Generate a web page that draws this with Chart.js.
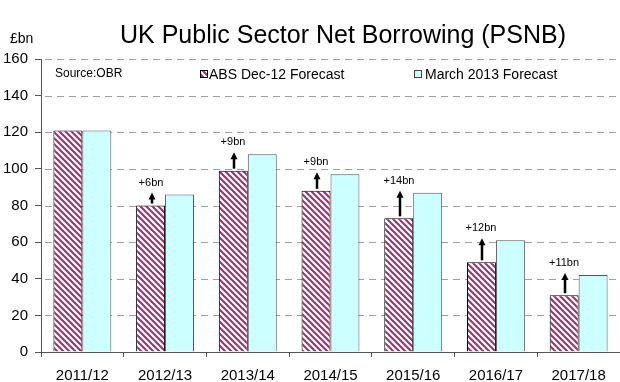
<!DOCTYPE html>
<html lang="en">
<head>
    <meta charset="UTF-8">
    <title>UK Public Sector Net Borrowing (PSNB)</title>
    <script src="https://cdn.jsdelivr.net/npm/chart.js"></script>
    <style>
        body { margin: 0; background: #fff; }
    </style>
</head>
<body>
<canvas id="psnbChart" width="620" height="382"></canvas>

<script>
    const years = ['2011/12', '2012/13', '2013/14', '2014/15', '2015/16', '2016/17', '2017/18'];
    const absDec12 = [121, 80, 99, 88, 73, 49, 31];      // ABS Dec-12 Forecast, £bn
    const march2013 = [121, 86, 108, 97, 87, 61, 42];    // March 2013 Forecast, £bn
    const yMin = 0;
    const yMax = 160;
    const yStep = 20;

    const FONT = "'Liberation Sans', Arial, sans-serif";
    const ctx = document.getElementById('psnbChart').getContext('2d');

    // diagonal maroon/white stripes for the December bars
    function makeHatch() {
        const c = document.createElement('canvas');
        c.width = 6;
        c.height = 6;
        const g = c.getContext('2d');
        g.fillStyle = '#ffffff';
        g.fillRect(0, 0, 6, 6);
        g.strokeStyle = '#993366';
        g.lineWidth = 2;
        g.beginPath();
        g.moveTo(-1, -1); g.lineTo(7, 7);
        g.moveTo(-1, 5); g.lineTo(1, 7);
        g.moveTo(5, -1); g.lineTo(7, 1);
        g.stroke();
        return ctx.createPattern(c, 'repeat');
    }
    const hatch = makeHatch();

    // dashed horizontal gridlines at every y tick (the axis line covers 0)
    const dashedGrid = {
        id: 'dashedGrid',
        beforeDatasetsDraw(chart) {
            const {ctx: c, chartArea: area, scales: {y}} = chart;
            c.save();
            c.strokeStyle = '#a0a0a0';
            c.lineWidth = 1;
            c.setLineDash([7, 5]);
            y.ticks.forEach(t => {
                if (t.value === yMin) return;
                const py = Math.round(y.getPixelForValue(t.value)) + 0.5;
                c.beginPath();
                c.moveTo(area.left + 4, py);
                c.lineTo(area.right, py);
                c.stroke();
            });
            c.restore();
        }
    };

    // title, unit, source note, legend and the "+Xbn" arrows
    const annotations = {
        id: 'annotations',
        afterDraw(chart) {
            const c = chart.ctx;
            c.save();
            c.fillStyle = '#000';
            c.textBaseline = 'alphabetic';

            c.font = '25px ' + FONT;
            c.textAlign = 'center';
            c.fillText('UK Public Sector Net Borrowing (PSNB)', 343, 43);

            c.textAlign = 'left';
            c.font = '14px ' + FONT;
            c.fillText('£bn', 10, 43);

            c.textBaseline = 'middle';
            c.font = '12px ' + FONT;
            c.fillText('Source:OBR', 55, 74);

            c.font = '14px ' + FONT;
            c.fillStyle = hatch;
            c.fillRect(200, 70, 8, 8);
            c.strokeStyle = '#000';
            c.lineWidth = 1;
            c.strokeRect(200.5, 70.5, 7, 7);
            c.fillStyle = '#000';
            c.fillText('ABS Dec-12 Forecast', 209, 75);

            c.fillStyle = '#ccffff';
            c.fillRect(414, 70, 8, 8);
            c.strokeStyle = '#444';
            c.strokeRect(414.5, 70.5, 7, 7);
            c.fillStyle = '#000';
            c.fillText('March 2013 Forecast', 425, 75);

            // upward revision arrows above each December bar
            const meta = chart.getDatasetMeta(0);
            const y = chart.scales.y;
            c.textAlign = 'center';
            c.font = '11px ' + FONT;
            meta.data.forEach((bar, i) => {
                const diff = march2013[i] - absDec12[i];
                if (diff <= 0) return;
                const x = Math.round(bar.x) + 1;
                const base = y.getPixelForValue(absDec12[i]) - 2;
                const tip = y.getPixelForValue(march2013[i]) - 2;
                c.strokeStyle = '#000';
                c.lineWidth = 2.5;
                c.beginPath();
                c.moveTo(x, base);
                c.lineTo(x, tip + 5);
                c.stroke();
                c.beginPath();
                c.moveTo(x, tip);
                c.lineTo(x - 3.5, tip + 7);
                c.lineTo(x + 3.5, tip + 7);
                c.closePath();
                c.fillStyle = '#000';
                c.fill();
                c.fillText('+' + diff + 'bn', x - 1, tip - 10);
            });
            c.restore();
        }
    };

    new Chart(ctx, {
        type: 'bar',
        data: {
            labels: years,
            datasets: [{
                label: 'ABS Dec-12 Forecast',
                data: absDec12,
                backgroundColor: hatch,
                borderColor: '#000',
                borderWidth: 1
            }, {
                label: 'March 2013 Forecast',
                data: march2013,
                backgroundColor: '#ccffff',
                borderColor: '#555',
                borderWidth: 1
            }]
        },
        options: {
            responsive: false,
            animation: false,
            events: [],
            layout: { padding: { top: 59, right: 0, left: 0, bottom: 0 } },
            datasets: {
                bar: { categoryPercentage: 0.7, barPercentage: 1.0 }
            },
            plugins: {
                legend: { display: false },
                title: { display: false },
                tooltip: { enabled: false }
            },
            scales: {
                x: {
                    grid: {
                        drawOnChartArea: false,
                        drawTicks: true,
                        tickLength: 5,
                        tickColor: '#555'
                    },
                    border: { color: '#555', width: 1 },
                    ticks: {
                        color: '#000',
                        font: { family: FONT, size: 15 },
                        padding: 10,
                        maxRotation: 0
                    },
                    afterFit(scale) { scale.height = 30; }
                },
                y: {
                    min: yMin,
                    max: yMax,
                    ticks: {
                        stepSize: yStep,
                        color: '#000',
                        font: { family: FONT, size: 15 },
                        padding: 7
                    },
                    grid: {
                        drawOnChartArea: false,
                        drawTicks: true,
                        tickLength: 6,
                        tickColor: '#555'
                    },
                    border: { color: '#555', width: 1 },
                    afterFit(scale) { scale.width = 41; }
                }
            }
        },
        plugins: [dashedGrid, annotations]
    });
</script>
</body>
</html>
